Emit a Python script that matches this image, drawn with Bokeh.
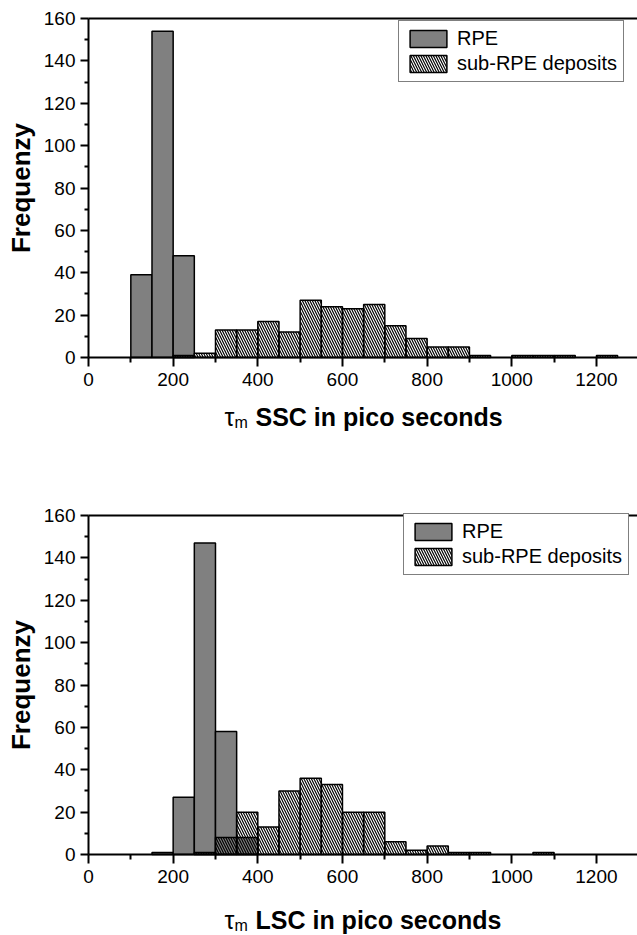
import math
from bokeh.plotting import figure
from bokeh.layouts import column
from bokeh.models import FixedTicker, Label, Range1d, LinearAxis
from bokeh.embed import file_html
from bokeh.resources import INLINE

# ---- data -----------------------------------------------------------
bin_starts = [100, 150, 200, 250, 300, 350, 400, 450, 500, 550, 600, 650,
              700, 750, 800, 850, 900, 950, 1000, 1050, 1100, 1150, 1200, 1250]
bin_width = 50

rpe_ssc = [39, 154, 48, 0, 0, 0, 0, 0, 0, 0, 0, 0,
           0, 0, 0, 0, 0, 0, 0, 0, 0, 0, 0, 0]
sub_ssc = [0, 0, 1, 2, 13, 13, 17, 12, 27, 24, 23, 25,
           15, 9, 5, 5, 1, 0, 1, 1, 1, 0, 1, 0]

rpe_lsc = [0, 1, 27, 147, 58, 8, 0, 0, 0, 0, 0, 0,
           0, 0, 0, 0, 0, 0, 0, 0, 0, 0, 0, 0]
sub_lsc = [0, 0, 0, 1, 8, 20, 13, 30, 36, 33, 20, 20,
           6, 2, 4, 1, 1, 0, 0, 1, 0, 0, 0, 0]

x_ticks = [0, 200, 400, 600, 800, 1000, 1200]
x_minor = [100, 300, 500, 700, 900, 1100]
y_ticks = [0, 20, 40, 60, 80, 100, 120, 140, 160]
y_minor = [10, 30, 50, 70, 90, 110, 130, 150]

series_names = ["RPE", "sub-RPE deposits"]
y_title = "Frequenzy"
x_title_symbol = "τ"
x_title_sub = "m"
x_titles = ["SSC in pico seconds", "LSC in pico seconds"]

FONT = "Liberation Sans"
X_MAX = 1297
Y_MAX = 160
PX_PER_Y = 339 / 160.0
PX_PER_X = 549 / 1297.0
LEFT_PX = 88
FIG_W = 637


def make_fig(rpe, sub, xtitle, top_gap, frame_h, bottom_border, title_dy,
             legend_loc):
    # top_gap: pixels between frame top and the 160 line
    y_max = Y_MAX + top_gap / PX_PER_Y
    y_min = Y_MAX - (frame_h - top_gap) / PX_PER_Y
    x_min = -LEFT_PX / PX_PER_X
    p = figure(frame_width=FIG_W, frame_height=frame_h, output_backend="svg",
               toolbar_location=None,
               x_range=Range1d(x_min, X_MAX), y_range=Range1d(y_min, y_max),
               min_border_left=0, min_border_top=0,
               min_border_right=0, min_border_bottom=bottom_border)
    p.outline_line_color = None
    p.xgrid.visible = False
    p.ygrid.visible = False
    p.background_fill_color = "white"
    p.border_fill_color = "white"

    def nz(vals):
        L, R, T = [], [], []
        for b, v in zip(bin_starts, vals):
            if v > 0:
                L.append(b)
                R.append(b + bin_width)
                T.append(v)
        return L, R, T

    L, R, T = nz(rpe)
    p.quad(left=L, right=R, top=T, bottom=0, fill_color="#808080",
           line_color="black", line_width=1.5, legend_label=series_names[0])
    L, R, T = nz(sub)
    p.quad(left=L, right=R, top=T, bottom=0, fill_color="white", fill_alpha=0,
           hatch_pattern="\\", hatch_color="black", hatch_weight=1.2,
           hatch_scale=5, line_color="black", line_width=1.5,
           legend_label=series_names[1])

    # axes (fixed inside the frame so that nothing is clipped)
    p.xaxis.fixed_location = 0
    p.yaxis.fixed_location = 0
    p.xaxis.bounds = (0, X_MAX)
    p.yaxis.bounds = (0, Y_MAX)
    p.xaxis.ticker = FixedTicker(ticks=x_ticks, minor_ticks=x_minor)
    p.yaxis.ticker = FixedTicker(ticks=y_ticks, minor_ticks=y_minor)
    for ax in (p.xaxis, p.yaxis):
        ax.axis_line_width = 2
        ax.axis_line_color = "black"
        ax.major_tick_line_color = "black"
        ax.minor_tick_line_color = "black"
        ax.major_tick_line_width = 2
        ax.minor_tick_line_width = 2
        ax.major_tick_in = 0
        ax.minor_tick_in = 0
        ax.major_label_text_font = FONT
        ax.major_label_text_font_size = "19px"
        ax.major_label_text_color = "black"
    p.xaxis.major_tick_out = 9
    p.xaxis.minor_tick_out = 5
    p.yaxis.major_tick_out = 8
    p.yaxis.minor_tick_out = 4
    p.xaxis.major_label_standoff = 6
    p.yaxis.major_label_standoff = 5

    # top frame line as a bare axis
    top = LinearAxis(fixed_location=Y_MAX, bounds=(0, X_MAX),
                     axis_line_width=2, axis_line_color="black",
                     major_tick_line_color=None, minor_tick_line_color=None,
                     major_label_text_font_size="0px",
                     ticker=FixedTicker(ticks=[]))
    p.add_layout(top, "above")

    # y title
    p.add_layout(Label(x=0, y=Y_MAX / 2, x_offset=-68, text=y_title,
                       angle=math.pi / 2, text_align="center",
                       text_baseline="middle", text_font=FONT,
                       text_font_size="26px", text_font_style="bold",
                       text_color="black"))

    # x title: tau with subscript m, then bold text
    p.add_layout(Label(x=0, y=0, x_offset=136, y_offset=title_dy,
                       text=x_title_symbol,
                       text_font=FONT, text_font_size="25px",
                       text_baseline="alphabetic", text_color="black"))
    p.add_layout(Label(x=0, y=0, x_offset=146, y_offset=title_dy - 6,
                       text=x_title_sub,
                       text_font=FONT, text_font_size="16px",
                       text_baseline="alphabetic", text_color="black"))
    p.add_layout(Label(x=0, y=0, x_offset=167, y_offset=title_dy, text=xtitle,
                       text_font=FONT, text_font_size="25px",
                       text_font_style="bold",
                       text_baseline="alphabetic", text_color="black"))

    lg = p.legend[0]
    lg.location = legend_loc
    lg.margin = 0
    lg.padding = 6
    lg.spacing = 2
    lg.glyph_width = 46
    lg.glyph_height = 21
    lg.label_height = 21
    lg.label_standoff = 6
    lg.label_text_font = FONT
    lg.label_text_font_size = "20px"
    lg.label_text_color = "black"
    lg.border_line_color = "black"
    lg.border_line_width = 1
    lg.background_fill_alpha = 1
    return p


# top chart: frame spans page y 0..440, the 160 line at y=18
p1 = make_fig(rpe_ssc, sub_ssc, x_titles[0], 18, 440, 65, -59, (398, 358))
# bottom chart: frame spans page y 505..934, the 160 line at y=515
p2 = make_fig(rpe_lsc, sub_lsc, x_titles[1], 10, 429, 0, -65, (403, 359))

layout = column(p1, p2, spacing=0)
open("out.html", "w").write(file_html(layout, INLINE))
